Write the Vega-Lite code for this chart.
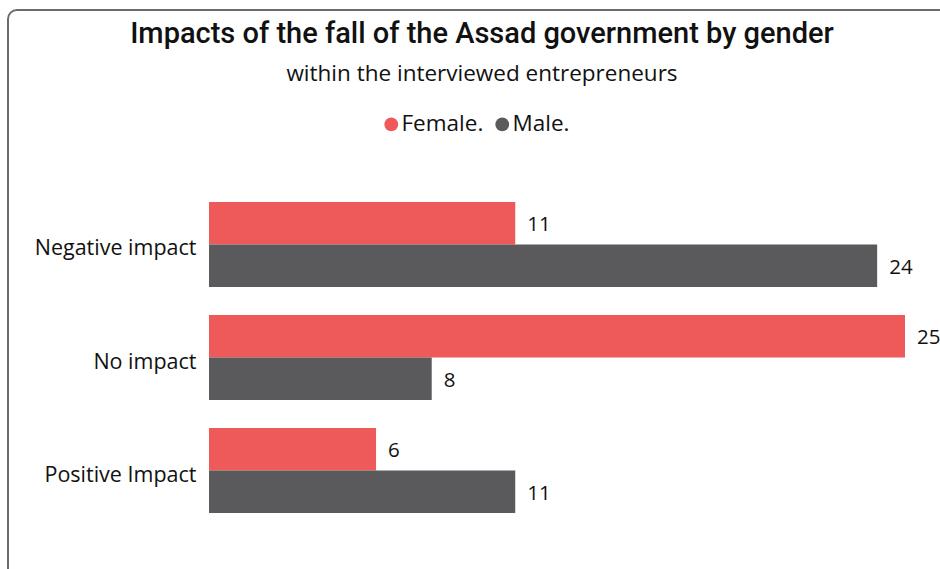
{
  "$schema": "https://vega.github.io/schema/vega-lite/v6.json",
  "width": 945,
  "height": 575,
  "autosize": {"type": "none"},
  "padding": {"left": 8, "top": 10, "right": -13, "bottom": -16},
  "background": "white",
  "view": {"stroke": "#6b6b6b", "strokeWidth": 2, "cornerRadius": 9, "fill": "white"},
  "title": {
    "text": "Impacts of the fall of the Assad government by gender",
    "subtitle": "within the interviewed entrepreneurs",
    "anchor": "middle",
    "orient": "top",
    "offset": -75,
    "dx": 1.5,
    "font": "Roboto",
    "fontSize": 29,
    "fontWeight": 500,
    "color": "#111111",
    "subtitleFont": "Open Sans",
    "subtitleFontSize": 22.5,
    "subtitleColor": "#111111",
    "subtitlePadding": 14
  },
  "data": {
    "values": [
      {"impact": "Negative impact", "gender": "Female.", "count": 11},
      {"impact": "Negative impact", "gender": "Male.", "count": 24},
      {"impact": "No impact", "gender": "Female.", "count": 25},
      {"impact": "No impact", "gender": "Male.", "count": 8},
      {"impact": "Positive Impact", "gender": "Female.", "count": 6},
      {"impact": "Positive Impact", "gender": "Male.", "count": 11}
    ]
  },
  "encoding": {
    "y": {
      "field": "impact",
      "type": "nominal",
      "sort": ["Negative impact", "No impact", "Positive Impact"],
      "scale": {"range": [192, 503], "paddingInner": 0.248, "paddingOuter": 0},
      "axis": {
        "title": null,
        "offset": -201,
        "ticks": false,
        "domain": false,
        "labelPadding": 13,
        "labelOffset": 5,
        "labelFont": "Open Sans",
        "labelFontSize": 21.5,
        "labelColor": "#111111"
      }
    },
    "yOffset": {
      "field": "gender",
      "type": "nominal",
      "sort": ["Female.", "Male."],
      "scale": {"paddingInner": 0, "paddingOuter": 0}
    },
    "x": {
      "field": "count",
      "type": "quantitative",
      "scale": {"domain": [0, 25], "range": [201, 897], "nice": false, "zero": true},
      "axis": null
    }
  },
  "layer": [
    {
      "mark": {"type": "bar"},
      "encoding": {
        "color": {
          "field": "gender",
          "type": "nominal",
          "sort": ["Female.", "Male."],
          "scale": {"domain": ["Female.", "Male."], "range": ["#EE5A5A", "#5A5A5C"]},
          "legend": {
            "title": null,
            "orient": "none",
            "direction": "horizontal",
            "legendX": 372,
            "legendY": 103,
            "symbolType": "circle",
            "symbolSize": 190,
            "symbolStrokeWidth": 0,
            "symbolOpacity": 1,
            "labelFont": "Open Sans",
            "labelFontSize": 22.5,
            "labelColor": "#111111",
            "labelOffset": -1,
            "columnPadding": 7
          }
        }
      }
    },
    {
      "mark": {"type": "text", "align": "left", "baseline": "middle", "dx": 12, "dy": 2, "font": "Open Sans", "fontSize": 20.5, "color": "#111111"},
      "encoding": {
        "text": {"field": "count", "type": "quantitative"}
      }
    }
  ]
}
